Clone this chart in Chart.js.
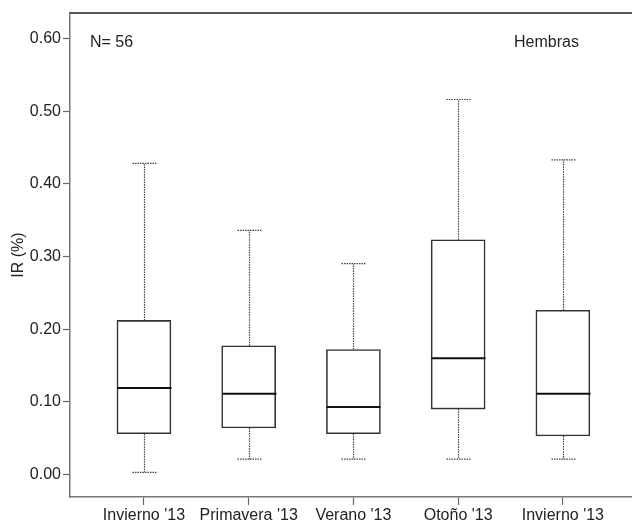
<!DOCTYPE html>
<html>
<head>
<meta charset="utf-8">
<script src="https://cdn.jsdelivr.net/npm/chart.js@4"></script>
<style>
html,body{margin:0;padding:0;background:#fff;}
#wrap{width:632px;height:525px;}
</style>
</head>
<body>
<div id="wrap"><canvas id="c" width="632" height="525"></canvas></div>
<script>
const categories = ["Invierno '13", "Primavera '13", "Verano '13", "Otoño '13", "Invierno '13"];
const mins    = [0.003, 0.021, 0.021, 0.021, 0.021];
const q1s     = [0.056, 0.064, 0.056, 0.090, 0.053];
const medians = [0.119, 0.111, 0.093, 0.160, 0.111];
const q3s     = [0.212, 0.177, 0.172, 0.323, 0.226];
const maxs    = [0.428, 0.336, 0.290, 0.516, 0.433];
const yTicks  = [0.0, 0.1, 0.2, 0.3, 0.4, 0.5, 0.6];
const sampleLabel = "N= 56";
const groupLabel = "Hembras";
const yTitle = "IR (%)";

const FONT = "'Liberation Sans', Arial, sans-serif";
const TXT = '#222';

const boxData = categories.map((c, i) => ({x: i + 1, y: [q1s[i], q3s[i]]}));

const boxPlugin = {
  id: 'boxParts',
  afterDatasetsDraw(chart) {
    const ctx = chart.ctx;
    const xs = chart.scales.x, ys = chart.scales.y;
    const area = chart.chartArea;
    ctx.save();
    ctx.strokeStyle = '#222';
    ctx.lineWidth = 1.5;
    ctx.beginPath();
    ctx.moveTo(area.left, area.top);
    ctx.lineTo(area.right, area.top);
    ctx.stroke();
    const capHalf = 12, boxHalf = 27;
    categories.forEach((c, i) => {
      const cx = Math.round(xs.getPixelForValue(i + 1)) + 0.5;
      const pMin = ys.getPixelForValue(mins[i]);
      const pQ1 = ys.getPixelForValue(q1s[i]);
      const pMed = ys.getPixelForValue(medians[i]);
      const pQ3 = ys.getPixelForValue(q3s[i]);
      const pMax = ys.getPixelForValue(maxs[i]);
      ctx.strokeStyle = '#444';
      ctx.lineWidth = 1.2;
      ctx.setLineDash([1.5, 1]);
      ctx.beginPath();
      ctx.moveTo(cx, pQ3); ctx.lineTo(cx, pMax);
      ctx.moveTo(cx, pQ1); ctx.lineTo(cx, pMin);
      ctx.moveTo(cx - capHalf, pMax); ctx.lineTo(cx + capHalf, pMax);
      ctx.moveTo(cx - capHalf, pMin); ctx.lineTo(cx + capHalf, pMin);
      ctx.stroke();
      ctx.setLineDash([]);
      ctx.strokeStyle = '#111';
      ctx.lineWidth = 2;
      ctx.beginPath();
      ctx.moveTo(cx - boxHalf, pMed); ctx.lineTo(cx + boxHalf, pMed);
      ctx.stroke();
    });
    ctx.fillStyle = TXT;
    ctx.font = "16px " + FONT;
    ctx.textBaseline = 'alphabetic';
    ctx.textAlign = 'left';
    ctx.fillText(sampleLabel, 90, 47);
    ctx.fillText(groupLabel, 514, 47);
    ctx.restore();
  }
};

new Chart(document.getElementById('c'), {
  type: 'bar',
  data: {
    datasets: [{
      data: boxData,
      backgroundColor: '#fff',
      borderColor: '#333',
      borderWidth: 1.6,
      borderSkipped: false,
      barThickness: 54
    }]
  },
  options: {
    responsive: false,
    animation: false,
    layout: {padding: {top: 13, left: 0, right: 0, bottom: 0}},
    plugins: {legend: {display: false}, tooltip: {enabled: false}},
    scales: {
      x: {
        type: 'linear',
        offset: false,
        min: 0.294,
        max: 5.66,
        afterBuildTicks(s) { s.ticks = categories.map((c, i) => ({value: i + 1})); },
        afterFit(s) { s.height = 28; },
        ticks: {
          autoSkip: false,
          maxRotation: 0,
          color: TXT,
          padding: 1,
          font: {family: FONT, size: 16},
          callback: (v) => categories[Math.round(v) - 1]
        },
        grid: {offset: false, drawOnChartArea: false, drawTicks: true, tickLength: 8, color: '#666', tickWidth: 1.2},
        border: {display: true, color: '#777', width: 1.5}
      },
      y: {
        type: 'linear',
        min: -0.031,
        max: 0.635,
        afterBuildTicks(s) { s.ticks = yTicks.map(v => ({value: v})); },
        afterFit(s) { s.width = 70; },
        ticks: {
          color: TXT,
          padding: 2,
          font: {family: FONT, size: 16},
          callback: (v) => Number(v).toFixed(2)
        },
        title: {
          display: true,
          text: yTitle,
          color: TXT,
          font: {family: FONT, size: 16},
          padding: {top: 9, bottom: 0}
        },
        grid: {drawOnChartArea: false, drawTicks: true, tickLength: 7, color: '#666', tickWidth: 1.2},
        border: {display: true, color: '#777', width: 1.5}
      }
    }
  },
  plugins: [boxPlugin]
});
</script>
</body>
</html>
